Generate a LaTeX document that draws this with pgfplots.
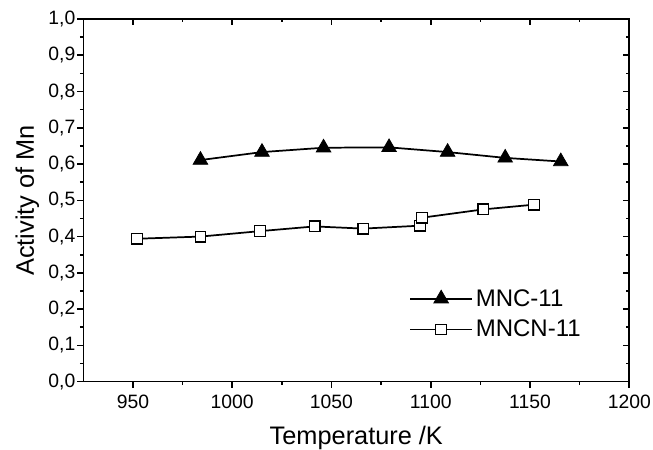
\documentclass[border=0pt]{standalone}
\usepackage{pgfplots}
\pgfplotsset{compat=1.18}
\usepackage{fontspec}
\setmainfont{Liberation Sans}
\begin{document}
\begin{tikzpicture}
\pgfplotsset{
  common/.style={
    scale only axis, width=409.5pt, height=272pt,
    xmin=925, xmax=1200, ymin=0, ymax=1.0,
    xtick={950,1000,...,1200}, minor x tick num=1,
    ytick={0,0.1,...,1.0}, minor y tick num=1,
    axis line style={line width=1.2pt},
    major tick length=4.5pt, minor tick length=2.5pt,
    every tick/.style={line width=1.2pt, black},
  }
}
\begin{axis}[common, name=ax,
  tick align=outside, xtick pos=bottom, ytick pos=left,
  /pgf/number format/assume math mode=true,
  ticklabel style={font=\fontsize{14.5pt}{17pt}\selectfont},
  xticklabel style={yshift=-2pt, /pgf/number format/.cd, set thousands separator={}},
  yticklabel style={xshift=2pt, /pgf/number format/.cd, fixed, fixed zerofill, precision=1, use comma},
  xlabel={Temperature /K}, ylabel={Activity of Mn},
  label style={font=\fontsize{19pt}{22pt}\selectfont},
  xlabel style={yshift=-6pt},
  legend style={draw=none, fill=none, at={(axis cs:1087,0.27)}, anchor=north west,
    font=\fontsize{18pt}{21pt}\selectfont, row sep=5pt},
  legend cell align=left,
  legend image code/.code={\draw[mark repeat=2,mark phase=2] plot coordinates {(0cm,0cm) (0.82cm,0cm) (1.64cm,0cm)};},
]
\addplot[black, line width=1.3pt, mark=triangle*, mark size=6.3pt, mark options={solid, fill=black, line width=0.6pt}]
coordinates {(984,0.611) (1015,0.633) (1046,0.645) (1079,0.646) (1108.5,0.633) (1137.5,0.617) (1165.5,0.607)};
\addlegendentry{MNC-11}
\addplot[black, line width=1.3pt, mark=square*, mark size=4pt, mark options={solid, fill=white, line width=0.9pt}]
coordinates {(952,0.394) (984,0.400) (1014,0.415) (1041.5,0.428) (1066,0.422) (1094.5,0.430) (1095.5,0.452) (1126.5,0.475) (1152,0.488)};
\addlegendentry{MNCN-11}
\end{axis}
\begin{axis}[common, tick align=inside, xtick pos=top, ytick pos=right,
  xticklabels={}, yticklabels={}]
\end{axis}
\pgfresetboundingbox
\useasboundingbox ([shift={(-62.5pt,-51.2pt)}]ax.south west) rectangle ([shift={(17.8pt,14.25pt)}]ax.north east);
\end{tikzpicture}
\end{document}
